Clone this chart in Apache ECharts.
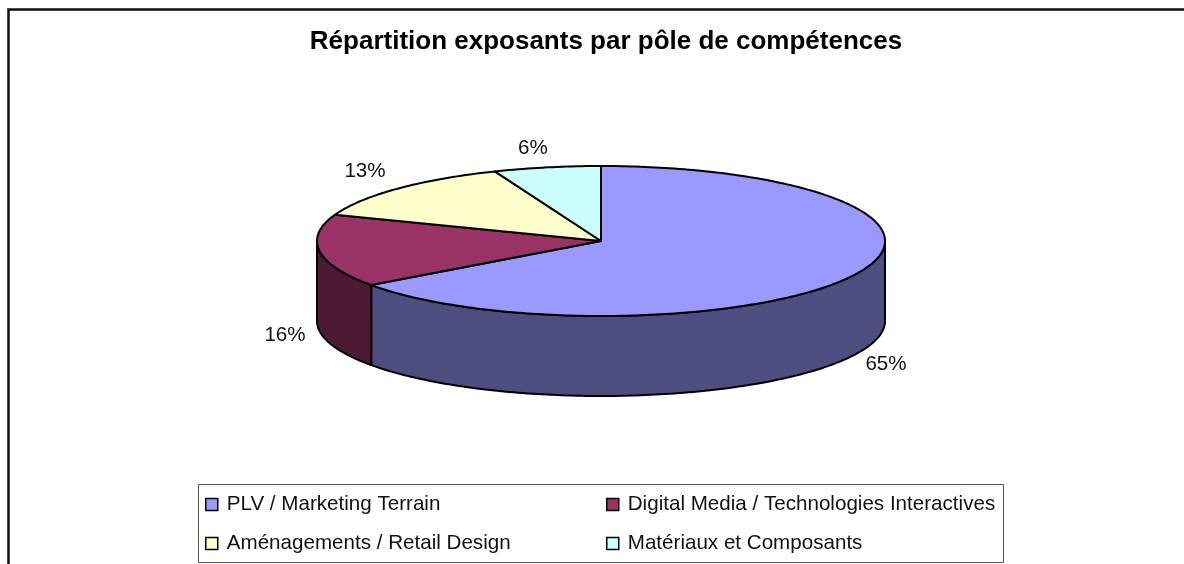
<!DOCTYPE html>
<html>
<head>
<meta charset="utf-8">
<style>
html, body { margin: 0; padding: 0; background: #fff; }
#chart { width: 1184px; height: 564px; }
</style>
<script src="https://cdn.jsdelivr.net/npm/echarts@6/dist/echarts.min.js"></script>
</head>
<body>
<div id="chart"></div>
<script>
const titleText = 'Répartition exposants par pôle de compétences';
const categories = ['PLV / Marketing Terrain', 'Digital Media / Technologies Interactives', 'Aménagements / Retail Design', 'Matériaux et Composants'];
// les etiquettes affichent la valeur arrondie
const values = [65, 15.7, 13.2, 6.1];

const topColors = ['#9999FF', '#993366', '#FFFFCC', '#CCFFFF'];
const sideColors = ['#4D4D80', '#4D1A33', '#808066', '#668080'];
const labelFont = '20.6px "Liberation Sans", Arial, sans-serif';

// ellipse du camembert 3D
const cx = 601, cy = 241, rx = 284, ry = 75, depth = 80;
// position des etiquettes, dans l'ordre des parts
const labelPos = [[886, 364], [285, 335], [365, 171], [533, 148]];

const total = values.reduce((a, b) => a + b, 0);

function ellipsePoint(deg, dy) {
    const t = deg * Math.PI / 180;
    return [cx + rx * Math.sin(t), cy + (dy || 0) - ry * Math.cos(t)];
}

function arcPoints(from, to, dy) {
    const pts = [];
    for (let d = from; d < to; d += 1) {
        pts.push(ellipsePoint(d, dy));
    }
    pts.push(ellipsePoint(to, dy));
    return pts;
}

function renderSlice(index, start) {
    return function (params, api) {
        const end = start + api.value(0) / total * 360;
        const children = [];

        // cote visible : seulement la moitie avant (90 a 270 degres)
        const sideFrom = Math.max(start, 90);
        const sideTo = Math.min(end, 270);
        if (sideTo > sideFrom) {
            const upper = arcPoints(sideFrom, sideTo, 0);
            const lower = arcPoints(sideFrom, sideTo, depth).reverse();
            children.push({
                type: 'polygon',
                shape: { points: upper.concat(lower) },
                style: { fill: sideColors[index], stroke: '#000', lineWidth: 2, lineJoin: 'round' }
            });
        }

        children.push({
            type: 'polygon',
            shape: { points: [[cx, cy]].concat(arcPoints(start, end, 0)) },
            style: { fill: topColors[index], stroke: '#000', lineWidth: 2, lineJoin: 'round' }
        });

        children.push({
            type: 'text',
            style: {
                x: labelPos[index][0],
                y: labelPos[index][1],
                text: Math.round(api.value(0)) + '%',
                font: labelFont,
                fill: '#111',
                align: 'center',
                verticalAlign: 'middle'
            }
        });

        return { type: 'group', children: children };
    };
}

let cumul = 0;
const series = values.map((v, i) => {
    const s = {
        name: categories[i],
        type: 'custom',
        coordinateSystem: 'none',
        silent: true,
        itemStyle: { color: topColors[i] },
        renderItem: renderSlice(i, cumul),
        data: [[v]]
    };
    cumul += v / total * 360;
    return s;
});

const legendBase = {
    orient: 'vertical',
    icon: 'rect',
    itemWidth: 12,
    itemHeight: 12,
    itemGap: 18,
    top: 494,
    padding: 0,
    selectedMode: false,
    itemStyle: { borderColor: '#000', borderWidth: 1.5 },
    textStyle: {
        fontFamily: '"Liberation Sans", Arial, sans-serif',
        fontSize: 20.6,
        color: '#111',
        padding: [0, 0, 0, 4]
    }
};

const chart = echarts.init(document.getElementById('chart'), null, { renderer: 'canvas' });
chart.setOption({
    backgroundColor: '#fff',
    animation: false,
    title: {
        text: titleText,
        left: 606,
        textAlign: 'center',
        top: 29,
        padding: 0,
        textStyle: {
            fontFamily: '"Liberation Sans", Arial, sans-serif',
            fontWeight: 'bold',
            fontSize: 26,
            color: '#000'
        }
    },
    legend: [
        Object.assign({}, legendBase, { left: 205, data: [categories[0], categories[2]] }),
        Object.assign({}, legendBase, { left: 606, data: [categories[1], categories[3]] })
    ],
    graphic: [
        {
            type: 'polyline',
            silent: true,
            shape: { points: [[8.5, 564], [8.5, 9.5], [1184, 9.5]] },
            style: { fill: null, stroke: '#111', lineWidth: 2.5 }
        },
        {
            type: 'rect',
            silent: true,
            z: -1,
            shape: { x: 198.5, y: 484.5, width: 805, height: 78 },
            style: { fill: '#fff', stroke: '#555', lineWidth: 1 }
        }
    ],
    series: series
});
</script>
</body>
</html>
